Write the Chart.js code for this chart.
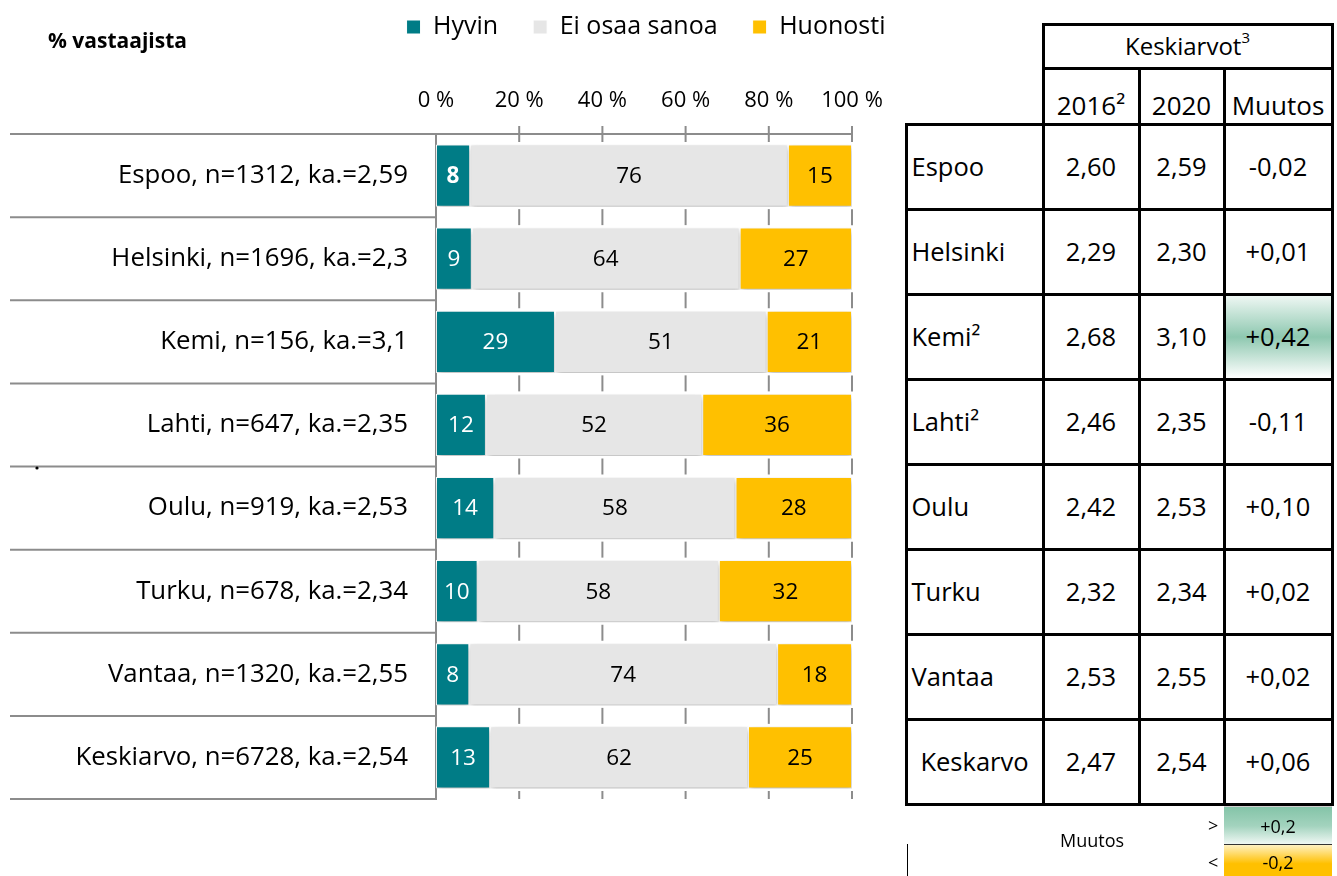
<!DOCTYPE html>
<html>
<head>
<meta charset="utf-8">
<script src="https://cdn.jsdelivr.net/npm/chart.js@4/dist/chart.umd.min.js"></script>
<style>
html,body{margin:0;padding:0;background:#fff;}
#wrap{position:relative;width:1337px;height:876px;overflow:hidden;font-family:"Open Sans",sans-serif;color:#000;}
#c{position:absolute;left:0;top:0;}
.cell{position:absolute;box-sizing:border-box;border:3px solid #000;display:flex;align-items:center;justify-content:center;font-size:25.5px;line-height:1.2;white-space:nowrap;background:#fff;}
.cell.city{justify-content:flex-start;padding-left:4px;}
.cell.center{justify-content:center;padding-left:0;}
.cell.head2{align-items:flex-end;padding-bottom:1px;font-size:26px;}
.cell.head1{font-size:24px;}
.cell.head1 sup{font-size:15px;vertical-align:top;position:relative;top:-4px;}
.cell.up{background:linear-gradient(to bottom,#eef7f3 0%,#8ec8b0 50%,#ffffff 100%);}
.cell.down{background:linear-gradient(to bottom,#fff3cc 0%,#ffc000 50%,#ffffff 100%);}
.lg{position:absolute;font-size:18px;line-height:1;white-space:nowrap;}
.box{position:absolute;display:flex;align-items:center;justify-content:center;font-size:18px;}
</style>
</head>
<body>
<div id="wrap">
  <canvas id="c" width="1337" height="876"></canvas>
  <div id="tbl"></div>
</div>
<script>
// ---- data ----
const categories = [
  'Espoo, n=1312, ka.=2,59',
  'Helsinki, n=1696, ka.=2,3',
  'Kemi, n=156, ka.=3,1',
  'Lahti, n=647, ka.=2,35',
  'Oulu, n=919, ka.=2,53',
  'Turku, n=678, ka.=2,34',
  'Vantaa, n=1320, ka.=2,55',
  'Keskiarvo, n=6728, ka.=2,54'
];
const seriesNames = ['Hyvin', 'Ei osaa sanoa', 'Huonosti'];
const hyvin       = [8.2, 8.6, 28.6, 12, 14, 10, 8, 13];
const eiOsaaSanoa = [76.4, 64.4, 50.9, 52, 58, 58, 74, 62];
const huonosti    = [15.4, 27.0, 20.5, 36, 28, 32, 18, 25];
const xTickValues = [0, 20, 40, 60, 80, 100];

const tableTitle = 'Keskiarvot';
const tableHeaders = ['2016²', '2020', 'Muutos'];
const tableCities = ['Espoo', 'Helsinki', 'Kemi²', 'Lahti²', 'Oulu', 'Turku', 'Vantaa', 'Keskarvo'];
const avg2016 = [2.60, 2.29, 2.68, 2.46, 2.42, 2.32, 2.53, 2.47];
const avg2020 = [2.59, 2.30, 3.10, 2.35, 2.53, 2.34, 2.55, 2.54];
const change  = [-0.02, 0.01, 0.42, -0.11, 0.10, 0.02, 0.02, 0.06];
const changeThresholds = [0.2, -0.2];

// ---- styles ----
const COLORS = ['#007C86', '#E6E6E6', '#FFC000'];
const LABEL_COLORS = ['#ffffff', '#000000', '#000000'];
const AXIS_GRAY = '#8c8c8c';

Chart.defaults.font.family = '"Open Sans", sans-serif';
Chart.defaults.color = '#000';

const decor = {
  id: 'decor',
  afterLayout(chart) {
    const lg = chart.legend;
    if (lg) {
      const cx = 646;
      lg.left = cx - 320;
      lg.right = cx + 320;
      lg.top = 27 - 12.5 - 35;
    }
  },
  beforeDatasetsDraw(chart) {
    const ctx = chart.ctx;
    ctx.save();
    ctx.shadowColor = 'rgba(0,0,0,0.28)';
    ctx.shadowBlur = 6;
    ctx.shadowOffsetX = 1;
    ctx.shadowOffsetY = 3;
  },
  afterDatasetsDraw(chart) {
    const ctx = chart.ctx;
    ctx.restore();
    const {left, right, top, bottom} = chart.chartArea;
    const xs = chart.scales.x, ys = chart.scales.y;
    const n = chart.data.labels.length;
    const bounds = [top];
    for (let i = 0; i < n - 1; i++) {
      bounds.push((ys.getPixelForValue(i) + ys.getPixelForValue(i + 1)) / 2);
    }
    bounds.push(bottom);
    const padL = chart.options.layout.padding.left;
    ctx.save();
    ctx.strokeStyle = AXIS_GRAY;
    ctx.lineWidth = 2;
    bounds.forEach((b, i) => {
      ctx.beginPath();
      ctx.moveTo(padL, b);
      ctx.lineTo(i === 0 ? right : left, b);
      ctx.stroke();
      xTickValues.forEach(v => {
        if (v === 0) return;
        const px = xs.getPixelForValue(v);
        ctx.beginPath();
        ctx.moveTo(px, b - 8);
        ctx.lineTo(px, i === n ? b : b + 8);
        ctx.stroke();
      });
    });
    ctx.restore();

    // data labels
    ctx.save();
    ctx.textAlign = 'center';
    ctx.textBaseline = 'middle';
    chart.data.datasets.forEach((ds, di) => {
      const meta = chart.getDatasetMeta(di);
      meta.data.forEach((el, i) => {
        const v = ds.data[i];
        const cx = (el.x + el.base) / 2;
        ctx.fillStyle = LABEL_COLORS[di];
        ctx.font = (di === 0 && i === 0 ? 'bold ' : '') + '22.5px "Open Sans", sans-serif';
        ctx.fillText(String(Math.round(v)), cx, el.y + 1);
      });
    });
    // title text
    ctx.textAlign = 'left';
    ctx.fillStyle = '#000';
    ctx.font = 'bold 21px "Open Sans", sans-serif';
    ctx.fillText('% vastaajista', 48, 42);
    // stray dot
    ctx.beginPath();
    ctx.arc(37, 468, 1.6, 0, Math.PI * 2);
    ctx.fill();
    ctx.restore();
  }
};

const seriesData = [hyvin, eiOsaaSanoa, huonosti];
new Chart(document.getElementById('c'), {
  type: 'bar',
  data: {
    labels: categories,
    datasets: seriesNames.map((name, i) => ({
      label: name,
      data: seriesData[i],
      backgroundColor: COLORS[i],
      borderColor: '#ffffff',
      borderWidth: 1,
      borderSkipped: false,
      barPercentage: 0.75,
      categoryPercentage: 1
    }))
  },
  options: {
    indexAxis: 'y',
    responsive: false,
    animation: false,
    devicePixelRatio: 1,
    layout: { padding: { left: 10, right: 485, top: 0, bottom: 77 } },
    scales: {
      x: {
        stacked: true,
        position: 'top',
        min: 0, max: 100,
        afterBuildTicks: s => { s.ticks = xTickValues.map(v => ({ value: v })); },
        ticks: { callback: v => v + ' %', font: { size: 22 }, color: '#000', padding: 20, maxRotation: 0 },
        grid: { display: false, drawTicks: false },
        border: { display: false },
        afterFit: s => { s.height = 94; }
      },
      y: {
        stacked: true,
        ticks: { font: { size: 25.8 }, color: '#000', padding: 28 },
        grid: { display: false, drawTicks: false },
        border: { display: true, color: AXIS_GRAY, width: 2 },
        afterFit: s => { s.width = 426; }
      }
    },
    plugins: {
      legend: {
        position: 'top',
        maxHeight: 40,
        labels: { boxWidth: 14, boxHeight: 14, padding: 35, color: '#000', font: { size: 25 } }
      },
      tooltip: { enabled: false },
      title: { display: false }
    }
  },
  plugins: [decor]
});

// ---- table ----
const tbl = document.getElementById('tbl');
const colX = [906, 1043, 1139, 1224, 1332];
const headY = [24, 68, 124];
const rowH = 85;
function cell(x0, y0, x1, y1, html, cls) {
  const d = document.createElement('div');
  d.className = 'cell ' + (cls || '');
  d.style.left = (x0 - 1.5) + 'px';
  d.style.top = (y0 - 1.5) + 'px';
  d.style.width = (x1 - x0 + 3) + 'px';
  d.style.height = (y1 - y0 + 3) + 'px';
  d.innerHTML = '<span>' + html + '</span>';
  tbl.appendChild(d);
  return d;
}
const fmt = v => v.toFixed(2).replace('.', ',');
const fmtChange = v => (v > 0 ? '+' : v < 0 ? '-' : '') + Math.abs(v).toFixed(2).replace('.', ',');
cell(colX[1], headY[0], colX[4], headY[1], tableTitle + '<sup>3</sup>', 'head1');
tableHeaders.forEach((h, j) => cell(colX[j + 1], headY[1], colX[j + 2], headY[2], h, 'head2'));
tableCities.forEach((c, i) => {
  const y0 = headY[2] + i * rowH, y1 = y0 + rowH;
  cell(colX[0], y0, colX[1], y1, c, i === tableCities.length - 1 ? 'center' : 'city');
  cell(colX[1], y0, colX[2], y1, fmt(avg2016[i]));
  cell(colX[2], y0, colX[3], y1, fmt(avg2020[i]));
  const cls = change[i] > changeThresholds[0] ? 'up' : (change[i] < changeThresholds[1] ? 'down' : '');
  cell(colX[3], y0, colX[4], y1, fmtChange(change[i]), cls);
});

// change legend
function add(html, cls, styles) {
  const d = document.createElement('div');
  d.className = cls;
  Object.assign(d.style, styles);
  d.innerHTML = html;
  tbl.appendChild(d);
  return d;
}
add('Muutos', 'lg', { left: '1060px', top: '831px' });
add('&gt;', 'lg', { left: '1208px', top: '816px' });
add('&lt;', 'lg', { left: '1208px', top: '853px' });
add('+0,' + '2', 'box', { left: '1224px', top: '806px', width: '108px', height: '38px',
  background: 'linear-gradient(to bottom,#84c4a8 0%,#a3d3be 50%,#f4faf7 100%)', borderTop: '1px solid #cfcfcf' });
add('-0,' + '2', 'box', { left: '1224px', top: '844px', width: '108px', height: '34px',
  background: 'linear-gradient(to bottom,#fff1c2 0%,#ffc000 55%,#ffc000 100%)', borderTop: '1px solid #333' });
add('', 'lg', { left: '907px', top: '844px', width: '1px', height: '32px', background: '#000' });
</script>
</body>
</html>
